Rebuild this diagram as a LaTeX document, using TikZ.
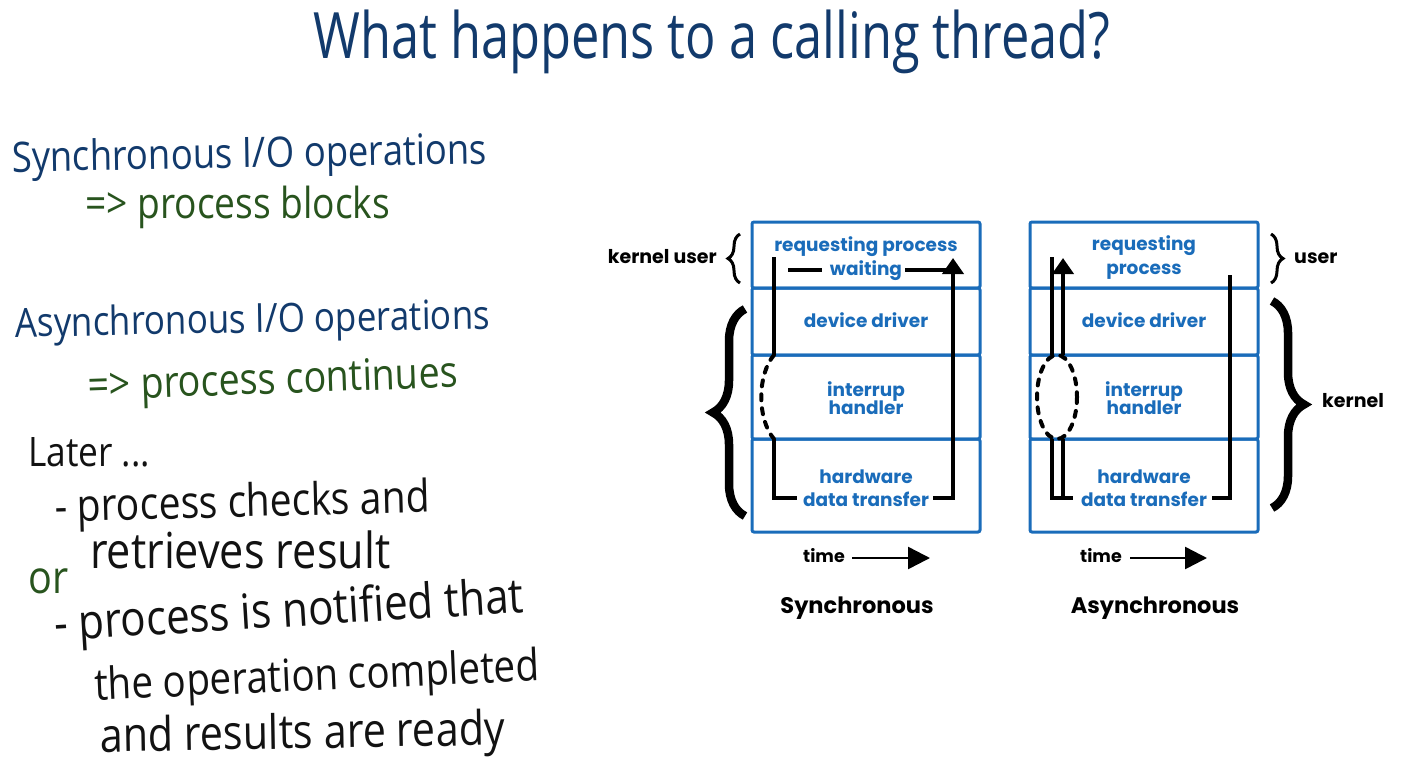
\documentclass[tikz,border=0pt]{standalone}
\usepackage{fontspec}
\usepackage{graphicx}
\setmainfont{Open Sans}
\newfontfamily\diagfont{Poppins}
\usetikzlibrary{arrows.meta,decorations.pathreplacing}

\definecolor{boxblue}{RGB}{26,108,186}
\definecolor{inkblue}{RGB}{18,58,108}
\definecolor{inkgreen}{RGB}{40,84,30}
\definecolor{inkblack}{RGB}{18,18,18}

% handwritten-style line, stretched to a given width and a little taller
\newcommand{\handline}[2]{\scalebox{1}[1.15]{\resizebox{#1pt}{!}{#2}}}

\tikzset{
  hand/.style={anchor=base west, inner sep=0pt, font=\fontsize{10}{12}\selectfont},
  row/.style={draw=boxblue, line width=3pt, minimum width=228pt, inner sep=0pt, rounded corners=2pt},
  rowtext/.style={anchor=base, inner sep=0pt, text=boxblue, font=\diagfont\bfseries\fontsize{18.5}{20}\selectfont},
  label/.style={inner sep=0pt, text=black, font=\diagfont\bfseries\fontsize{19}{22}\selectfont},
  timelabel/.style={inner sep=0pt, text=black, font=\diagfont\bfseries\fontsize{17.5}{20}\selectfont},
  caption/.style={anchor=base, inner sep=0pt, text=black, font=\diagfont\bfseries\fontsize{22.5}{26}\selectfont},
  wire/.style={line width=4pt, black},
  dashwire/.style={line width=4pt, black, dash pattern=on 6pt off 8pt, line cap=round},
  bighead/.style={-{Triangle[width=21pt,length=16pt]}},
  timearrow/.style={line width=2.5pt, black, -{Triangle[width=22pt,length=22pt]}},
  bigbrace/.style={line width=8.5pt, black, decorate, decoration={brace, amplitude=#1}},
  smallbrace/.style={line width=3pt, black, decorate, decoration={brace, amplitude=#1}},
}

\begin{document}
\begin{tikzpicture}[x=1pt,y=-1pt]
\useasboundingbox[fill=white] (0,0) rectangle (1402,777);

% ---- title and notes ----
\node[hand, text=inkblue] (ttl) at (313,58) {\scalebox{1}[1.1]{\handline{797}{What happens to a calling thread?}}};

\node[hand, text=inkblue, rotate=1] (syncio) at (12,172) {\handline{475}{Synchronous I/O operations}};
\node[hand, text=inkgreen] (blocks) at (85,218) {\handline{305}{=> process blocks}};
\node[hand, text=inkblue, rotate=1] (asyncio) at (15,337) {\handline{475}{Asynchronous I/O operations}};
\node[hand, text=inkgreen, rotate=2] (cont) at (88,400) {\handline{370}{=> process continues}};
\node[hand, text=inkblack] (later) at (28,466) {\handline{122}{Later ...}};
\node[hand, text=inkblack, rotate=1.5] (chk) at (55,522) {\handline{375}{- process checks and}};
\node[hand, text=inkblack] (retr) at (90,568) {\handline{300}{retrieves result}};
\node[hand, text=inkgreen] (orr) at (28,593) {\handline{40}{or}};
\node[hand, text=inkblack, rotate=3.5] (notif) at (55,641) {\handline{470}{- process is notified that}};
\node[hand, text=inkblack, rotate=2.5] (opc) at (95,700) {\handline{445}{the operation completed}};
\node[hand, text=inkblack, rotate=1] (rdy) at (100,752) {\handline{405}{and results are ready}};

% ---- synchronous stack ----
\node[row, minimum height=66pt] (s1) at (866,255) {};
\node[row, minimum height=67pt] (s2) at (866,321.5) {};
\node[row, minimum height=84pt] (s3) at (866,397) {};
\node[row, minimum height=93pt] (s4) at (866,485.5) {};

\node[rowtext] (sreq) at (866,251) {requesting process};
\node[rowtext] (swait) at (866,275) {waiting};
\node[rowtext] (sdev) at (866,327) {device driver};
\node[rowtext] (sint) at (866,396) {interrup};
\node[rowtext] (shand) at (866,414) {handler};
\node[rowtext] (shw) at (866,483) {hardware};
\node[rowtext] (sdt) at (866,506) {data transfer};

% ---- asynchronous stack ----
\node[row, minimum height=66pt] (a1) at (1144,255) {};
\node[row, minimum height=67pt] (a2) at (1144,321.5) {};
\node[row, minimum height=84pt] (a3) at (1144,397) {};
\node[row, minimum height=93pt] (a4) at (1144,485.5) {};

\node[rowtext] (areq) at (1144,250) {requesting};
\node[rowtext] (aproc) at (1144,274) {process};
\node[rowtext] (adev) at (1144,327) {device driver};
\node[rowtext] (aint) at (1144,396) {interrup};
\node[rowtext] (ahand) at (1144,414) {handler};
\node[rowtext] (ahw) at (1144,483) {hardware};
\node[rowtext] (adt) at (1144,506) {data transfer};

% ---- synchronous control flow ----
\coordinate (sA) at (774,257);
\coordinate (sB) at (774,355);
\coordinate (sC) at (774,439);
\coordinate (sD) at (774,498);
\coordinate (sE) at (797,498);
\coordinate (sF) at (933,498);
\coordinate (sG) at (953,498);
\coordinate (sH) at (953,258);
\coordinate (sW1) at (788,270);
\coordinate (sW2) at (822,270);
\coordinate (sW3) at (905,270);
\coordinate (sW4) at (946,270);
\draw[wire] (sA) -- (sB);
\draw[dashwire] (sB) .. controls (757,375) and (757,419) .. (sC);
\draw[wire] (sC) -- (sD) -- (sE);
\draw[wire, bighead] (sF) -- (sG) -- (sH);
\draw[wire] (sW1) -- (sW2);
\draw[wire] (sW3) -- (sW4);

% ---- asynchronous control flow ----
\coordinate (aA) at (1052,257);
\coordinate (aB) at (1052,355);
\coordinate (aC) at (1063,355);
\coordinate (aD) at (1063,258);
\coordinate (aE) at (1052,439);
\coordinate (aF) at (1052,498);
\coordinate (aG) at (1073,498);
\coordinate (aH) at (1063,439);
\coordinate (aI) at (1063,498);
\coordinate (aJ) at (1212,498);
\coordinate (aK) at (1230,498);
\coordinate (aL) at (1230,275);
\coordinate (aM) at (1057,397);
\draw[wire] (aA) -- (aB);
\draw[wire, bighead] (aC) -- (aD);
\draw[dashwire] (aM) ellipse [x radius=20, y radius=42];
\draw[wire] (aE) -- (aF) -- (aG);
\draw[wire] (aH) -- (aI);
\draw[wire] (aJ) -- (aK) -- (aL);

% ---- braces and their labels ----
\draw[smallbrace=12pt] (740,283) -- (740,234);
\node[label, anchor=base east] (ku) at (717,263) {kernel user};
\draw[bigbrace=32pt] (745,516) -- (745,309);

\draw[smallbrace=12pt] (1271,234) -- (1271,283);
\node[label, anchor=base west] (usr) at (1294,263) {user};
\draw[bigbrace=32pt] (1272,301) -- (1272,508);
\node[label, anchor=base west] (krn) at (1322,407) {kernel};

% ---- time axes and captions ----
\node[timelabel, anchor=base west] (stime) at (803,562) {time};
\coordinate (sT1) at (852,558);
\coordinate (sT2) at (930,558);
\draw[timearrow] (sT1) -- (sT2);
\node[timelabel, anchor=base west] (atime) at (1080,562) {time};
\coordinate (aT1) at (1130,558);
\coordinate (aT2) at (1207,558);
\draw[timearrow] (aT1) -- (aT2);

\node[caption] (scap) at (857,613) {Synchronous};
\node[caption] (acap) at (1155,613) {Asynchronous};
\end{tikzpicture}
\end{document}
